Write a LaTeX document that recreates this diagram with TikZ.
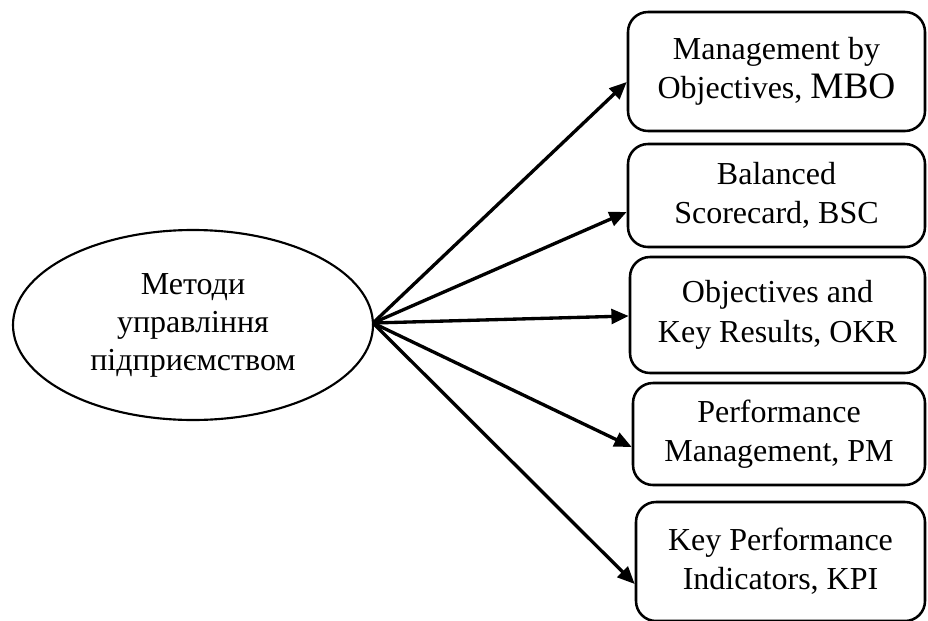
\documentclass[tikz,border=0pt]{standalone}
\usepackage{fontspec}
\setmainfont{Liberation Serif}
\usetikzlibrary{arrows.meta,shapes.geometric,calc}
\begin{document}
\begin{tikzpicture}[x=0.75pt,y=-0.75pt,
  hub/.style={draw, ellipse, line width=1.6pt, inner sep=0pt,
    minimum width=270pt, minimum height=142.5pt, align=center,
    font=\fontsize{24}{28.5}\selectfont},
  method/.style={draw, line width=1.9pt, rounded corners=15pt,
    align=center, inner sep=0pt, font=\fontsize{24}{29.5}\selectfont},
  link/.style={line width=2.5pt, -{Triangle[length=13pt,width=11pt]}},
]
\useasboundingbox (0,0) rectangle (928,621);

% central concept
\node[hub] (hub) at (193,325) {Методи\\управління\\підприємством};

% management methods
\node[method, minimum width=222.75pt, minimum height=89.25pt] (mbo) at (776.5,71.5)
  {Management by\\Objectives, {\fontsize{28}{29.5}\selectfont MBO}};
\node[method, minimum width=222.75pt, minimum height=77.25pt] (bsc) at (776.5,195.5)
  {Balanced\\Scorecard, BSC};
\node[method, minimum width=221.25pt, minimum height=87pt] (okr) at (777.5,315)
  {Objectives and\\Key Results, OKR};
\node[method, minimum width=219pt, minimum height=76.5pt] (pm) at (779,434)
  {Performance\\Management, PM};
\node[method, minimum width=216.75pt, minimum height=89.25pt] (kpi) at (780.5,561.5)
  {Key Performance\\Indicators, KPI};

% connectors from the hub to each method
\coordinate (src) at (373,323);
\draw[link] (src) -- ($(mbo.west)+(0,10.5)$);
\draw[link] (src) -- ($(bsc.west)+(0,16.5)$);
\draw[link] (src) -- ($(okr.west)+(0,1)$);
\draw[link] (src) -- ($(pm.west)+(0,13)$);
\draw[link] (src) -- ($(kpi.west)+(0,22.5)$);
\end{tikzpicture}
\end{document}
